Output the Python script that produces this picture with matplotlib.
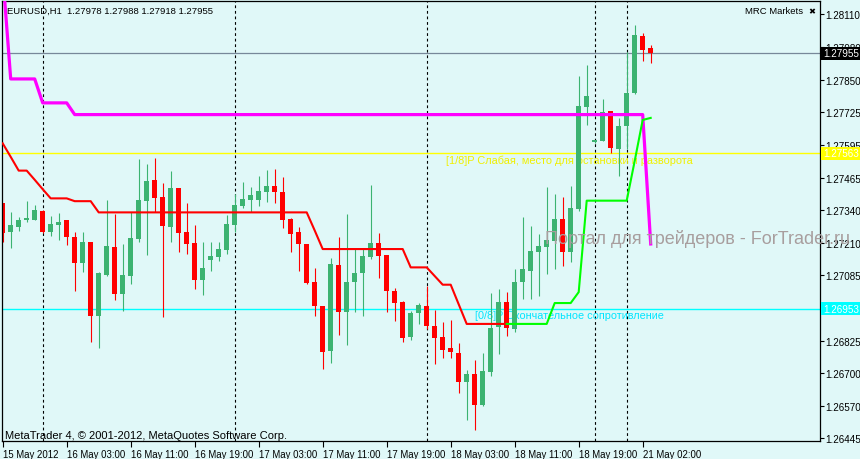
import numpy as np
import matplotlib.pyplot as plt
import matplotlib.transforms as mtransforms

plt.rcParams['font.family'] = ['Liberation Sans', 'DejaVu Sans']

# EURUSD H1, bars from 15 May 2012 19:00
opens = [1.27368, 1.27255, 1.27274, 1.27300, 1.27302, 1.27336, 1.27255, 1.27283, 1.27301, 1.27234,
         1.27133, 1.27215, 1.26925, 1.27085, 1.27195, 1.27012, 1.27082, 1.27226, 1.27377, 1.27457,
         1.27391, 1.27274, 1.27427, 1.27254, 1.27211, 1.27067, 1.27145, 1.27157, 1.27185, 1.27281,
         1.27357, 1.27381, 1.27381, 1.27412, 1.27434, 1.27410, 1.27305, 1.27253, 1.27207, 1.27057,
         1.26965, 1.26788, 1.27124, 1.26939, 1.27057, 1.27093, 1.27157, 1.27211, 1.27164, 1.27023,
         1.26979, 1.26843, 1.26935, 1.26963, 1.26886, 1.26842, 1.26799, 1.26779, 1.26664, 1.26696,
         1.26575, 1.26703, 1.26880, 1.26978, 1.26873, 1.27057, 1.27102, 1.27177, 1.27196, 1.27220,
         1.27305, 1.27174, 1.27344, 1.27746, 1.27606, 1.27613, 1.27728, 1.27580, 1.27672, 1.27799,
         1.28023, 1.27978]
highs = [1.27368, 1.27332, 1.27313, 1.27377, 1.27360, 1.27340, 1.27317, 1.27330, 1.27301, 1.27255,
         1.27255, 1.27215, 1.27098, 1.27378, 1.27326, 1.27207, 1.27331, 1.27541, 1.27522, 1.27543,
         1.27446, 1.27494, 1.27427, 1.27368, 1.27281, 1.27214, 1.27214, 1.27215, 1.27321, 1.27403,
         1.27452, 1.27430, 1.27473, 1.27499, 1.27501, 1.27470, 1.27308, 1.27274, 1.27207, 1.27113,
         1.26965, 1.27153, 1.27233, 1.27325, 1.27187, 1.27187, 1.27439, 1.27250, 1.27164, 1.27033,
         1.26984, 1.26945, 1.26975, 1.27043, 1.26948, 1.26902, 1.26908, 1.26817, 1.26713, 1.26753,
         1.26779, 1.27015, 1.27030, 1.27020, 1.27109, 1.27312, 1.27279, 1.27246, 1.27430, 1.27403,
         1.27390, 1.27436, 1.27865, 1.27910, 1.27616, 1.27776, 1.27728, 1.27700, 1.27960, 1.28067,
         1.28035, 1.27988]
lows = [1.27215, 1.27192, 1.27259, 1.27294, 1.27302, 1.27250, 1.27237, 1.27224, 1.27203, 1.27023,
        1.27096, 1.26823, 1.26800, 1.27082, 1.26988, 1.26945, 1.27050, 1.27216, 1.27164, 1.27331,
        1.26921, 1.27216, 1.27174, 1.27168, 1.27030, 1.27007, 1.27102, 1.27140, 1.27168, 1.27253,
        1.27347, 1.27331, 1.27355, 1.27371, 1.27367, 1.27269, 1.27174, 1.27102, 1.27050, 1.26925,
        1.26716, 1.26738, 1.26851, 1.26811, 1.26941, 1.26923, 1.27148, 1.27075, 1.26939, 1.26906,
        1.26821, 1.26831, 1.26893, 1.26873, 1.26737, 1.26760, 1.26760, 1.26621, 1.26517, 1.26478,
        1.26570, 1.26690, 1.26775, 1.26844, 1.26860, 1.26991, 1.26991, 1.27004, 1.27089, 1.27109,
        1.27122, 1.27135, 1.27338, 1.27674, 1.27604, 1.27613, 1.27564, 1.27475, 1.27580, 1.27796,
        1.27927, 1.27918]
closes = [1.27250, 1.27281, 1.27302, 1.27310, 1.27342, 1.27255, 1.27285, 1.27293, 1.27236, 1.27133,
          1.27215, 1.26925, 1.27093, 1.27199, 1.27012, 1.27085, 1.27230, 1.27380, 1.27454, 1.27387,
          1.27279, 1.27427, 1.27250, 1.27207, 1.27067, 1.27111, 1.27161, 1.27187, 1.27284, 1.27360,
          1.27384, 1.27399, 1.27414, 1.27434, 1.27410, 1.27302, 1.27247, 1.27206, 1.27054, 1.26962,
          1.26784, 1.27128, 1.26939, 1.27057, 1.27092, 1.27160, 1.27211, 1.27161, 1.27023, 1.26975,
          1.26839, 1.26936, 1.26967, 1.26884, 1.26839, 1.26792, 1.26782, 1.26664, 1.26696, 1.26576,
          1.26709, 1.26877, 1.26978, 1.26876, 1.27057, 1.27109, 1.27181, 1.27198, 1.27223, 1.27305,
          1.27174, 1.27347, 1.27748, 1.27787, 1.27614, 1.27724, 1.27585, 1.27672, 1.27800, 1.28028,
          1.27970, 1.27955]

# indicator lines
magenta_line = [1.28267] + [1.27855] * 4 + [1.27761] * 4 + [1.27715] * 72 + [1.27207]
red_line = ([1.27602, 1.27549, 1.27495, 1.27495, 1.27459, 1.27422]
            + [1.27386] * 3 + [1.27375] * 3 + [1.27331] * 27 + [1.27260]
            + [1.27187] * 11 + [1.27115] * 3 + [1.27081] + [1.27047] * 2
            + [1.26970] + [1.26893] * 6)
green_start = 63
green_line = ([1.26893] * 6 + [1.26975] * 3 + [1.27018] + [1.27377] * 6
              + [1.27533, 1.27694, 1.27702])

# horizontal levels
bid = 1.27955
level_18 = 1.27563
level_08 = 1.26953

separators = [5, 29, 53, 74, 78]
xtick_pos = [0, 8, 16, 24, 32, 40, 48, 56, 64, 72, 80]
xtick_labels = ["15 May 2012", "16 May 03:00", "16 May 11:00", "16 May 19:00",
                "17 May 03:00", "17 May 11:00", "17 May 19:00", "18 May 03:00",
                "18 May 11:00", "18 May 19:00", "21 May 02:00"]
ytick_vals = [1.28110, 1.27980, 1.27850, 1.27725, 1.27595, 1.27465, 1.27340,
              1.27210, 1.27085, 1.26825, 1.26700, 1.26570, 1.26445]

BG = '#e0f8f8'
BULL = '#3cb371'
BEAR = '#ff0000'
FS = 6.9

fig = plt.figure(figsize=(8.6, 4.6), dpi=100, facecolor=BG)
ax = fig.add_axes([2/860, 18/460, 818/860, 440/460], facecolor=BG)

o = np.array(opens); h = np.array(highs); l = np.array(lows); c = np.array(closes)
x = np.arange(len(o))
up = c >= o
cols = np.where(up, BULL, BEAR)

# separators and levels (behind everything)
for s in separators:
    ax.axvline(s, color='black', lw=0.8, ls=(0, (2.5, 2.5)), zorder=1)
ax.axhline(bid, color='#778899', lw=0.9, zorder=1)
ax.axhline(level_18, color='#ffff00', lw=1.0, zorder=1)
ax.axhline(level_08, color='#00ffff', lw=1.0, zorder=1)

ax.text(55.4, level_18 - 0.00004, "[1/8]P Слабая, место для остановки и разворота",
        color='#f0f000', fontsize=7.9, va='top', ha='left', zorder=1.5)
ax.text(59.0, level_08 - 0.00004, "[0/8]P Окончательное сопротивление",
        color='#00e5ff', fontsize=7.8, va='top', ha='left', zorder=1.5)

# candles
ax.vlines(x, l, h, colors=cols, lw=0.8, zorder=2)
body = np.maximum(np.abs(c - o), 0.00003)
ax.bar(x, body, bottom=np.minimum(o, c), width=0.66, color=cols, lw=0, zorder=2.5)

# indicators
ax.plot(x[:len(magenta_line)], magenta_line, color='#ff00ff', lw=2.3, zorder=3)
ax.plot(x[:len(red_line)], red_line, color='#ff0000', lw=1.5, zorder=3)
ax.plot(x[green_start:green_start + len(green_line)], green_line, color='#00ff00',
        lw=1.5, zorder=3)

ax.set_xlim((2 - 2.7) / 8, (820 - 2.7) / 8)
ax.set_ylim(1.28110 - (442 - 15) / 25466, 1.28110 - (2 - 15) / 25466)

ax.yaxis.tick_right()
ax.set_yticks(ytick_vals)
ax.set_yticklabels(["%.5f" % v for v in ytick_vals])
ax.set_xticks(xtick_pos)
ax.set_xticklabels(xtick_labels, ha='left')
ax.tick_params(axis='y', direction='out', length=3, width=0.8, pad=0.6, labelsize=7.1)
ax.tick_params(axis='x', direction='out', length=4, width=0.8, pad=1.5, labelsize=FS)
for sp in ax.spines.values():
    sp.set_color('black')
    sp.set_linewidth(0.9)

# price labels on the axis
tr = mtransforms.blended_transform_factory(fig.transFigure, ax.transData)
for val, bgc in [(bid, 'black'), (level_18, '#ffff00'), (level_08, '#00ffff')]:
    ax.text(823 / 860, val, "%.5f" % val, transform=tr, color='white', fontsize=7.1,
            va='center', ha='left', clip_on=False, zorder=5,
            bbox=dict(facecolor=bgc, edgecolor='none', pad=1.3))

# corner texts
fig.text(7 / 860, 1 - 11 / 460, "EURUSD,H1  1.27978 1.27988 1.27918 1.27955",
         fontsize=6.8, va='center', ha='left', color='black')
fig.text(745 / 860, 1 - 12 / 460, "MRC Markets", fontsize=6.8, va='center', ha='left')
fig.text(808 / 860, 1 - 12 / 460, "\u2716", fontsize=6, va='center', ha='left',
         family='DejaVu Sans')
fig.text(5 / 860, 1 - 436 / 460, "MetaTrader 4, © 2001-2012, MetaQuotes Software Corp.",
         fontsize=8.0, va='center', ha='left')
fig.text(545 / 860, 1 - 239 / 460, "Портал для трейдеров - ForTrader.ru",
         fontsize=13.0, va='center', ha='left', color='#a89e9e', zorder=10)

fig.savefig("out.png", dpi=100, facecolor=BG)
